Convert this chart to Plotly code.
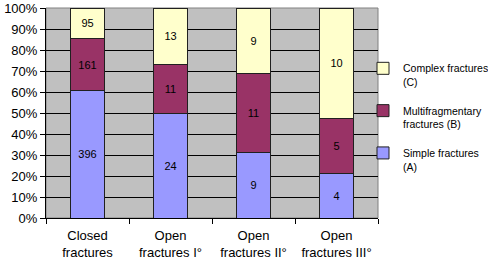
import plotly.graph_objects as go

categories = ["Closed<br>fractures", "Open<br>fractures I°", "Open<br>fractures II°", "Open<br>fractures III°"]
simple = [396, 24, 9, 4]
multifragmentary = [161, 11, 11, 5]
complex_ = [95, 13, 9, 10]
series_names = ["Simple fractures<br>(A)", "Multifragmentary<br>fractures (B)", "Complex fractures<br>(C)"]
legend_ranks = [3, 2, 1]
colors = ["#9999FF", "#993366", "#FFFFCC"]
y_ticks = list(range(0, 101, 10))

fig = go.Figure()
for vals, name, col, rank in zip([simple, multifragmentary, complex_], series_names, colors, legend_ranks):
    fig.add_trace(go.Bar(
        x=categories, y=vals, name=name, text=vals, legendgroup=name, legendrank=rank,
        texttemplate="%{text}", textposition="inside", insidetextanchor="middle",
        textfont=dict(family="Liberation Sans, Arial", size=11, color="#000000"),
        marker=dict(color=col, line=dict(color="#202020", width=1)),
        width=0.4,
    ))

fig.update_layout(
    barmode="stack", barnorm="percent",
    width=488, height=263,
    margin=dict(l=46, r=110, t=8, b=45, autoexpand=False),
    paper_bgcolor="white", plot_bgcolor="#C0C0C0",
    font=dict(family="Liberation Sans, Arial", size=12, color="#000000"),
    legend=dict(x=(363 - 46) / 332, y=(263 - 45 - 55) / 210, xanchor="left", yanchor="top",
                font=dict(size=10.5), valign="top", tracegroupgap=12,
                traceorder="grouped", itemwidth=30,
                bgcolor="rgba(0,0,0,0)", borderwidth=0),
    uniformtext=dict(mode="show", minsize=11),
    showlegend=True,
)
fig.update_yaxes(range=[0, 100], tickvals=y_ticks, ticktext=[f"{v}%" for v in y_ticks],
                 showgrid=True, gridcolor="#000000", gridwidth=1,
                 showline=True, linecolor="#000000", linewidth=1,
                 ticks="outside", ticklen=5, tickcolor="#000000",
                 tickfont=dict(size=13), zeroline=False, automargin=False)
fig.update_xaxes(showline=True, linecolor="#000000", linewidth=1, tickangle=0,
                 ticks="outside", tickson="boundaries", ticklen=5, tickcolor="#000000",
                 ticklabelstandoff=5,
                 tickfont=dict(size=13), showgrid=False, automargin=False)
fig.add_shape(type="rect", xref="paper", yref="paper", x0=0, x1=1, y0=0, y1=1,
              line=dict(color="#808080", width=1), layer="below")

fig.write_html("out.html", config={"displayModeBar": False},
               post_script="document.body.style.margin='0';")
